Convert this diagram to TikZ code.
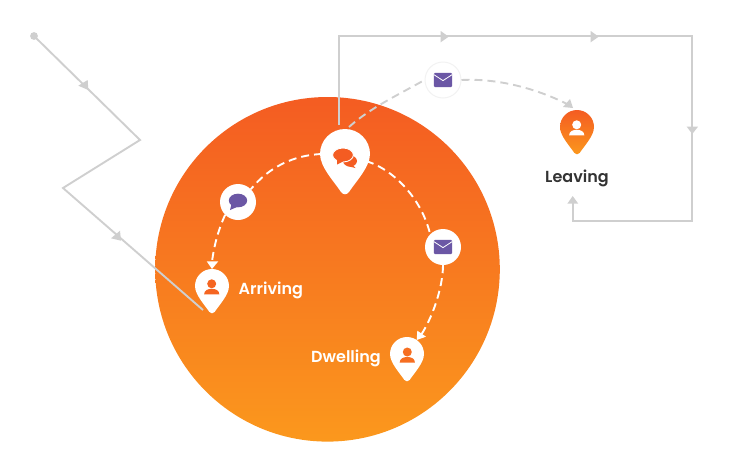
\documentclass[tikz,border=0pt]{standalone}
\usepackage{fontspec}
\setmainfont{Poppins}[BoldFont=* SemiBold]
\definecolor{ortop}{HTML}{F45C22}
\definecolor{orbot}{HTML}{FB981D}
\definecolor{grayline}{HTML}{CFCFCF}
\definecolor{purp}{HTML}{6B57A5}
\definecolor{txtdark}{HTML}{333333}
\pgfdeclareverticalshading{orangev}{100bp}{color(0bp)=(orbot); color(25bp)=(orbot); color(75bp)=(ortop); color(100bp)=(ortop)}
\newcommand\pinat[4]{%
  \path[#4,shift={(#1,#2)},x=#3pt,y=-#3pt] (-1,0) arc[start angle=180,end angle=360,radius=1]
      .. controls (1,0.52) and (0.42,1.12) .. (0.16,1.52)
      .. controls (0.08,1.64) and (-0.08,1.64) .. (-0.16,1.52)
      .. controls (-0.42,1.12) and (-1,0.52) .. (-1,0) -- cycle;}
\tikzset{
  gline/.style={draw=grayline,line width=1.9pt,line join=miter},
  gdash/.style={draw=grayline,line width=1.9pt,dash pattern=on 8pt off 5pt},
  wdash/.style={draw=white,line width=1.9pt,dash pattern=on 8pt off 5pt},
  gtri/.style={fill=grayline},
  wtri/.style={fill=white},
  badge/.style={circle,fill=white,minimum size=36pt,inner sep=0pt},
  lbl/.style={font=\fontsize{16}{19}\selectfont\bfseries,inner sep=0pt},
  personpic/.pic={
    \fill[pic actions] (0,-2.6) circle[radius=4.5];
    \fill[pic actions] (-7.6,8) .. controls (-7.6,4) and (-4,2.4) .. (0,2.4)
      .. controls (4,2.4) and (7.6,4) .. (7.6,8) -- cycle;
  },
  envpic/.pic={
    \fill[purp,rounded corners=1.2pt] (-9.2,-7.2) rectangle (9.2,7.2);
    \draw[white,line width=0.8pt] (-9.2,-5.4) -- (0,0.6) -- (9.2,-5.4);
  },
}
\begin{document}
\begin{tikzpicture}[x=1pt,y=-1pt,line cap=butt]
\useasboundingbox (0,0) rectangle (729,472);
% big disc
\path[shading=orangev] (327.5,269.3) circle[radius=172.3];
% named points
\coordinate (start) at (34,36);
\coordinate (z1) at (140,140);
\coordinate (z2) at (63,188);
\coordinate (arrEnd) at (203,310);
\coordinate (bigPinA) at (339,125);
\coordinate (c1) at (339,36);
\coordinate (c2) at (692,36);
\coordinate (c3) at (692,221);
\coordinate (c4) at (573,221);
\coordinate (leaveUp) at (573,200);
\coordinate (bigL) at (322,154);
\coordinate (bigR) at (366,161);
\coordinate (bigT) at (349,127);
\coordinate (arrTop) at (212,262);
\coordinate (dwellTop) at (421,335);
\coordinate (leaveTop) at (569,105);
% grey solid connectors
\fill[grayline] (start) circle[radius=3.9];
\draw[gline] (start) -- (z1) -- (z2) -- (arrEnd);
\fill[gtri] (78.3,85.7) -- (87.7,80) -- (88.3,90) -- cycle;
\fill[gtri] (111,238.3) -- (120,230.7) -- (121,240.7) -- cycle;
\draw[gline] (bigPinA) -- (c1) -- (c2) -- (c3) -- (c4) -- (leaveUp);
\fill[gtri] (440.7,31) -- (440.7,42.3) -- (448.7,36.7) -- cycle;
\fill[gtri] (590.7,31) -- (590.7,42.3) -- (598.7,36.7) -- cycle;
\fill[gtri] (686.7,126.7) -- (698,126.7) -- (692.3,134) -- cycle;
\fill[gtri] (567.3,203.7) -- (578.3,203.7) -- (572.7,196) -- cycle;
% badges as nodes
\node[badge] (chat) at (238,202) {};
\node[badge] (env) at (443,247) {};
\node[badge,draw=black!5,line width=1pt] (envTop) at (443,80) {};
% dashed connectors
\draw[wdash] (bigL) .. controls (295,155) and (270,166) .. (chat.north east);
\draw[wdash] (chat.south west) .. controls (219,228) and (214,245) .. (arrTop);
\draw[wdash] (bigR) .. controls (395,170) and (422,200) .. (env.north west);
\draw[wdash] (env.south) .. controls (443,285) and (434,315) .. (dwellTop);
\draw[gdash] (bigT) .. controls (370,108) and (398,95) .. (envTop.west);
\draw[gdash] (envTop.east) .. controls (500,78) and (540,90) .. (leaveTop);
% white and grey arrowheads
\fill[wtri] (206.7,261.3) -- (218.3,261.3) -- (212,269) -- cycle;
\fill[wtri] (417.3,330.7) -- (426,336.7) -- (416.7,340) -- cycle;
\fill[gtri] (563,107) -- (570,99) -- (573,108) -- cycle;
% pins
\pinat{345}{154}{25}{fill=white}
\pinat{212}{286}{17}{fill=white}
\pinat{407}{354}{17}{fill=white}
\pinat{577}{127}{17}{shading=orangev}
% person icons
\pic[fill=ortop!85!orbot] at (211.7,286.4) {personpic};
\pic[fill=ortop!70!orbot] at (407.3,354.6) {personpic};
\pic[fill=white] at (576.7,127.4) {personpic};
% chat icon in big pin
\begin{scope}[shift={(345,158)}]
  \fill[ortop] (5,3) ellipse[x radius=7,y radius=5.5];
  \fill[ortop] (6,5) -- (10.5,10) -- (2,8) -- cycle;
  \draw[white,line width=0.9pt,fill=ortop] (-2,-3) ellipse[x radius=10.4,y radius=7];
  \fill[ortop] (-8,0) -- (-8,6.5) -- (-2,3.5) -- cycle;
\end{scope}
% purple chat
\fill[purp] (238,200.5) ellipse[x radius=9.2,y radius=6.8];
\fill[purp] (231.5,204) -- (230,210) -- (237,207) -- cycle;
% envelopes
\pic at (443,247) {envpic};
\pic at (443,80) {envpic};
% labels
\node[lbl,white,anchor=west] (arriving) at (238.5,290) {Arriving};
\node[lbl,white,anchor=west] (dwelling) at (311,358) {Dwelling};
\node[lbl,txtdark] (leaving) at (577,178) {Leaving};
\end{tikzpicture}
\end{document}
